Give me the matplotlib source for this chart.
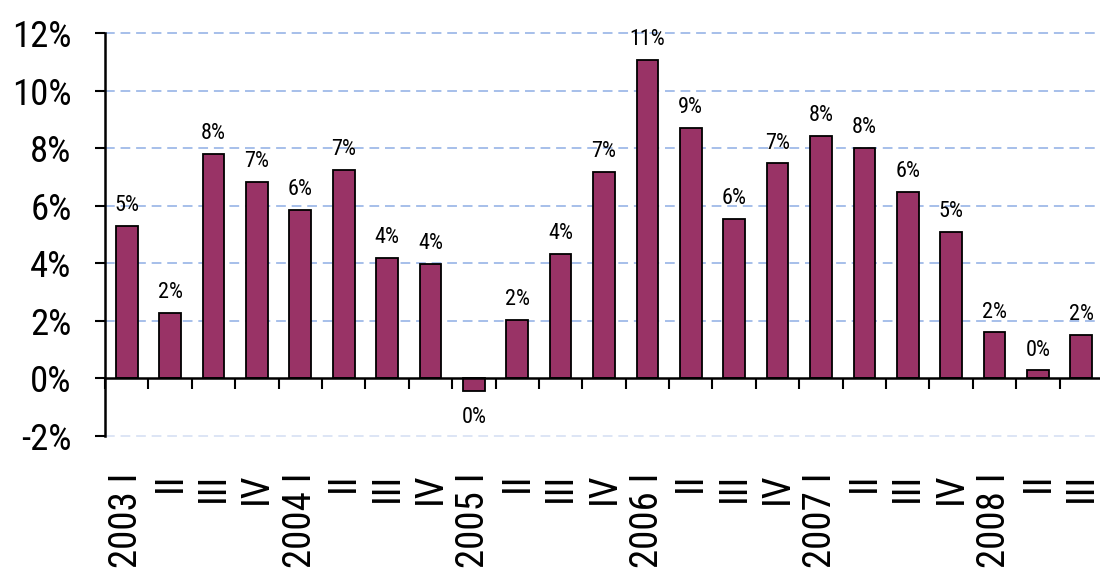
import numpy as np
import matplotlib
matplotlib.use("Agg")
import matplotlib.pyplot as plt
from matplotlib.ticker import FixedLocator
from matplotlib import font_manager as fm

# ---- font choice: prefer a narrow sans (Arial Narrow look) ----
_fonts = fm.fontManager.ttflist
_names = {f.name for f in _fonts}
FAMILY, STRETCH, NARROW = 'Liberation Sans', 'normal', False
for cand in ['Liberation Sans Narrow', 'Arial Narrow', 'Roboto Condensed', 'Open Sans Condensed']:
    if cand in _names:
        FAMILY, NARROW = cand, True
        break
else:
    if any('DejaVuSansCondensed' in f.fname for f in _fonts):
        FAMILY, STRETCH, NARROW = 'DejaVu Sans', 'condensed', True
plt.rcParams['font.family'] = [FAMILY, 'DejaVu Sans']
plt.rcParams['font.stretch'] = STRETCH

if NARROW:
    FS_Y, FS_X, FS_D = 26.5, 28, 16
else:
    FS_Y, FS_X, FS_D = 21, 24, 12.5

# ---- data ----
years = ['2003', '', '', '', '2004', '', '', '', '2005', '', '', '', '2006', '', '', '',
         '2007', '', '', '', '2008', '', '']
quarters = ['I', 'II', 'III', 'IV'] * 5 + ['I', 'II', 'III']
growth = [5.31, 2.27, 7.81, 6.84, 5.87, 7.26, 4.20, 3.98, -0.45, 2.05, 4.33, 7.18,
          11.08, 8.72, 5.55, 7.48, 8.43, 8.01, 6.48, 5.09, 1.60, 0.28, 1.52]
y_ticks = [-2, 0, 2, 4, 6, 8, 10, 12]

# ---- figure ----
W, H = 1100, 570
fig = plt.figure(figsize=(W / 100, H / 100), dpi=100)
ax = fig.add_axes([105 / W, 1 - 436 / H, (1103 - 105) / W, (436 - 33.3) / H])

x = np.arange(len(growth))
ax.bar(x, growth, width=0.5, color='#993366', edgecolor='black', linewidth=1.3, zorder=3)

ax.set_xlim(-0.5, len(growth) - 0.5)
ax.set_ylim(min(y_ticks), max(y_ticks))

# gridlines
for t in y_ticks:
    if t == 0:
        continue
    col = '#dde5f5' if t == min(y_ticks) else '#a6bfea'
    ax.axhline(t, color=col, lw=1.4, ls=(0, (5, 3)), zorder=1, clip_on=False)

# spines
for s in ['top', 'right']:
    ax.spines[s].set_visible(False)
ax.spines['bottom'].set_position(('data', 0))
ax.spines['bottom'].set_linewidth(1.8)
ax.spines['left'].set_linewidth(1.8)
ax.spines['bottom'].set_zorder(4)

# y axis
ax.set_yticks(y_ticks)
ax.set_yticklabels([f"{t}%" for t in y_ticks])
ax.tick_params(axis='y', direction='out', length=7, width=1.5, labelsize=FS_Y, pad=17)

# x axis: boundary ticks (major), centered labels (minor)
ax.xaxis.set_major_locator(FixedLocator(np.arange(-0.5, len(growth), 1.0)))
ax.xaxis.set_major_formatter(plt.NullFormatter())
ax.xaxis.set_minor_locator(FixedLocator(x))
labels = [f"{y} {q}" if y else q for y, q in zip(years, quarters)]
ax.set_xticklabels(labels, minor=True, rotation=90)
ax.tick_params(axis='x', which='major', direction='out', length=8, width=1.5)
ax.tick_params(axis='x', which='minor', length=0, labelsize=FS_X, pad=68)

# data labels
for xi, v in zip(x, growth):
    lab = f"{abs(round(v)):.0f}%" if round(v) == 0 else f"{round(v):.0f}%"
    if v >= 0:
        ax.annotate(lab, (xi, v), xytext=(0, 7), textcoords='offset points',
                    ha='center', va='bottom', fontsize=FS_D, zorder=5, annotation_clip=False)
    else:
        ax.annotate(lab, (xi, v), xytext=(0, -11), textcoords='offset points',
                    ha='center', va='top', fontsize=FS_D, zorder=5, annotation_clip=False)

fig.savefig("out.png", dpi=100)
